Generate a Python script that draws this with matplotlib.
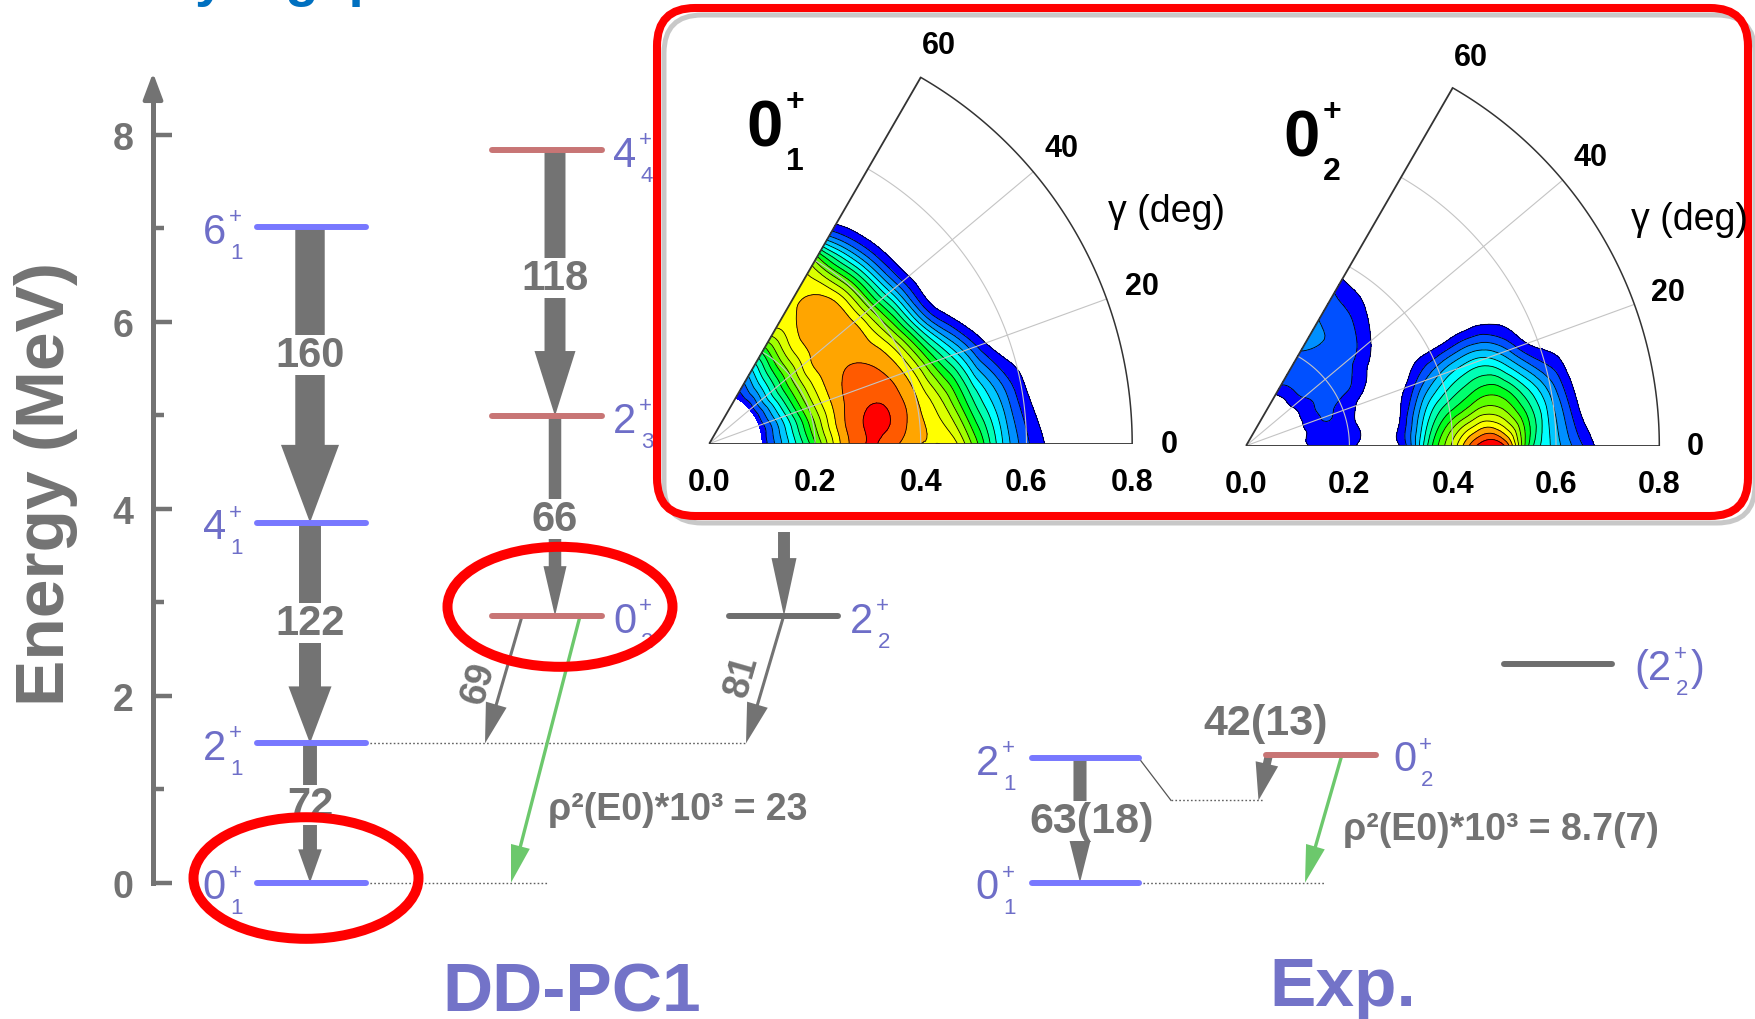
import numpy as np
import matplotlib
matplotlib.use("Agg")
import matplotlib.pyplot as plt
import matplotlib.tri as mtri
from matplotlib.patches import FancyArrowPatch, Ellipse, FancyBboxPatch

plt.rcParams['font.family'] = ['Liberation Sans', 'DejaVu Sans']

# ---------------- level scheme (energies in MeV) ----------------
dd_g_spin = ['0', '2', '4', '6']
dd_g_index = ['1', '1', '1', '1']
dd_g_energy = [0.0, 1.49, 3.85, 7.01]

dd_x_spin = ['0', '2', '4']
dd_x_index = ['2', '3', '4']
dd_x_energy = [2.85, 4.99, 7.83]

dd_gam_energy = 2.85          # 2+_2 (DD-PC1)

exp_g_spin = ['0', '2']
exp_g_index = ['1', '1']
exp_g_energy = [0.0, 1.33]
exp_02_energy = 1.37
exp_22_energy = 2.34
exp_21_drawn = 0.88           # end of the 42(13) arrow (2+_1 drawn shifted)

# B(E2) labels (W.u.) and E0 strengths
dd_g_be2 = ['72', '122', '160']
dd_x_be2 = ['66', '118']
dd_cross_be2 = ['69', '81']
exp_be2 = ['63(18)', '42(13)']
rho2_labels = ['ρ²(E0)*10³ = 23', 'ρ²(E0)*10³ = 8.7(7)']

energy_ticks = [0, 2, 4, 6, 8]
energy_minor = [1, 3, 5, 7]

# ---------------- collective wave functions |psi(beta, gamma)|^2 ----------------
beta_grid = [0.10, 0.15, 0.20, 0.25, 0.30, 0.35, 0.40,
             0.45, 0.50, 0.55, 0.60, 0.65, 0.70, 0.75, 0.80]
gamma_grid = [0, 10, 20, 30, 40, 50, 60]

psi_01 = [
    [0.07, 0.30, 0.55, 0.82, 0.94, 0.89, 0.81, 0.80, 0.60, 0.33, 0.13, 0.03, 0, 0, 0],
    [0.07, 0.32, 0.60, 0.84, 0.94, 0.93, 0.82, 0.68, 0.45, 0.25, 0.07, 0, 0, 0, 0],
    [0.07, 0.34, 0.63, 0.83, 0.91, 0.89, 0.78, 0.54, 0.30, 0.07, 0, 0, 0, 0, 0],
    [0.07, 0.36, 0.64, 0.82, 0.87, 0.84, 0.68, 0.36, 0.06, 0, 0, 0, 0, 0, 0],
    [0.07, 0.36, 0.62, 0.81, 0.86, 0.83, 0.60, 0.28, 0.03, 0, 0, 0, 0, 0, 0],
    [0.07, 0.32, 0.58, 0.78, 0.85, 0.83, 0.60, 0.26, 0.02, 0, 0, 0, 0, 0, 0],
    [0.07, 0.25, 0.50, 0.74, 0.79, 0.78, 0.62, 0.20, 0, 0, 0, 0, 0, 0, 0],
]

psi_02 = [
    [0, 0.10, 0.07, 0, 0.06, 0.42, 0.70, 0.95, 0.94, 0.47, 0.27, 0.12, 0, 0, 0],
    [0, 0.10, 0.08, 0, 0.04, 0.30, 0.48, 0.58, 0.58, 0.42, 0.22, 0.03, 0, 0, 0],
    [0, 0.11, 0.09, 0.01, 0, 0.12, 0.25, 0.32, 0.30, 0.14, 0.02, 0, 0, 0, 0],
    [0, 0.11, 0.13, 0.09, 0, 0, 0, 0, 0, 0, 0, 0, 0, 0, 0],
    [0, 0.12, 0.15, 0.14, 0.08, 0, 0, 0, 0, 0, 0, 0, 0, 0, 0],
    [0, 0.13, 0.16, 0.17, 0.14, 0.06, 0, 0, 0, 0, 0, 0, 0, 0, 0],
    [0, 0.14, 0.17, 0.19, 0.16, 0.10, 0, 0, 0, 0, 0, 0, 0, 0, 0],
]

beta_ticks = [0.0, 0.2, 0.4, 0.6, 0.8]
gamma_ticks = [0, 20, 40, 60]

wf_colors = ['#0000ff', '#0050ff', '#0090ff', '#00c8ff', '#00ffff', '#00ffb4',
             '#00ff6e', '#00ff1e', '#5aff00', '#a0ff00', '#dcff00', '#ffff00',
             '#ffa500', '#ff5a00', '#ff0000']

# ---------------- styles ----------------
GRAY = '#737373'
LGRAY = '#6e6e6e'
LBL = '#6e6ec8'
BLUE = '#7878ff'
RED = '#c87575'
GREEN = '#6cc86c'

W, H = 1756, 1020
E0_PX, PX_PER_MEV = 883.7, 93.52

fig = plt.figure(figsize=(W / 100, H / 100), dpi=100)
ax = fig.add_axes([0, 0, 1, 1])
ax.set_xlim(0, W)
ax.set_ylim(-(H - E0_PX) / PX_PER_MEV, E0_PX / PX_PER_MEV)
ax.patch.set_visible(False)

for s in ['top', 'right', 'bottom']:
    ax.spines[s].set_visible(False)
ax.spines['left'].set_position(('data', 153))
ax.spines['left'].set_bounds(0, 8.45)
ax.spines['left'].set_linewidth(3.6)
ax.spines['left'].set_color(GRAY)
ax.set_xticks([])
ax.set_yticks(energy_ticks)
ax.set_yticks(energy_minor, minor=True)
ax.tick_params(axis='y', which='major', direction='in', length=13.7, width=3.2,
               color=GRAY, labelsize=27, labelcolor=GRAY, pad=14)
ax.tick_params(axis='y', which='minor', direction='in', length=7.6, width=3.2, color=GRAY)
for lbl in ax.get_yticklabels():
    lbl.set_fontweight('bold')
ax.annotate('', xy=(153, 8.66), xytext=(153, 8.35),
            arrowprops=dict(arrowstyle='-|>,head_length=16,head_width=6', mutation_scale=1,
                            color=GRAY, lw=3.0, shrinkA=0, shrinkB=0))
ax.set_ylabel('Energy (MeV)', fontsize=50, fontweight='bold', color=GRAY)
ax.yaxis.set_label_coords(78 / W, (H - 484) / H)

# clipped heading at the very top
fig.text(162 / W, 1 + 4 / H, 'by a gap', fontsize=39, fontweight='bold',
         color='#0070c0', ha='left', va='baseline')


def state_label(a, x, y, main, sup, sub, ha, size, small, color, weight='normal',
                dsup=(2.2, 9.4), dsub=(3.4, -16.2), close=None, close_dx=14):
    t = a.text(x, y, main, ha=ha, va='center_baseline', fontsize=size, color=color,
               fontweight=weight, zorder=6)
    a.annotate(sup, xy=(1, y), xycoords=(t, 'data'), xytext=dsup, textcoords='offset points',
               ha='left', va='center_baseline', fontsize=small, color=color,
               fontweight=weight, zorder=6)
    a.annotate(sub, xy=(1, y), xycoords=(t, 'data'), xytext=dsub, textcoords='offset points',
               ha='left', va='center_baseline', fontsize=small, color=color,
               fontweight=weight, zorder=6)
    if close:
        a.annotate(close, xy=(1, y), xycoords=(t, 'data'), xytext=(close_dx, 0),
                   textcoords='offset points', ha='left', va='center_baseline',
                   fontsize=size, color=color, fontweight=weight, zorder=6)


def levels(x0, x1, energies, color):
    for e in energies:
        ax.plot([x0, x1], [e, e], color=color, lw=4.3, solid_capstyle='round', zorder=4)


def arrow(p0, p1, tail, hw, hl, color=GRAY, z=2):
    ax.add_patch(FancyArrowPatch(p0, p1, arrowstyle=f'simple,head_length={hl},head_width={hw},tail_width={tail}',
                                 mutation_scale=1, color=color, lw=0, shrinkA=0, shrinkB=0, zorder=z))


def tlabel(x, y, s, size=30, rot=0, box=True):
    kw = dict(boxstyle='square,pad=0.0', fc='white', ec='none') if box else None
    ax.text(x, y, s, ha='center', va='center_baseline', fontsize=size, fontweight='bold',
            color=GRAY, rotation=rot, bbox=kw, zorder=3)


def dotted(x0, x1, e):
    ax.plot([x0, x1], [e, e], color='#606060', lw=1.0, ls=(0, (1.2, 1.6)), zorder=1)


DD1, DD2, DD3 = (257, 366), (492, 602), (729, 838)
EX1, EX2, EX3 = (1032, 1139), (1266, 1376), (1504, 1612)

# ---- DD-PC1 ----
levels(*DD1, dd_g_energy, BLUE)
levels(*DD2, dd_x_energy, RED)
levels(*DD3, [dd_gam_energy], LGRAY)

for sp, ix, e in zip(dd_g_spin, dd_g_index, dd_g_energy):
    state_label(ax, DD1[0] - 31, e, sp, '+', ix, 'right', 30, 16, LBL)
for sp, ix, e in zip(dd_x_spin, dd_x_index, dd_x_energy):
    state_label(ax, DD2[1] + 11, e, sp, '+', ix, 'left', 30, 16, LBL)
state_label(ax, DD3[1] + 12, dd_gam_energy, '2', '+', '2', 'left', 30, 16, LBL)

xg = 310
arrow((xg, dd_g_energy[1]), (xg, dd_g_energy[0]), 10, 17, 24)
arrow((xg, dd_g_energy[2]), (xg, dd_g_energy[1]), 15.8, 31, 41)
arrow((xg, dd_g_energy[3]), (xg, dd_g_energy[2]), 21.2, 41.8, 56)
tlabel(xg, 0.88, dd_g_be2[0])
tlabel(xg, 2.83, dd_g_be2[1])
tlabel(xg, 5.69, dd_g_be2[2])

xx = 555
arrow((xx, dd_x_energy[1]), (xx, dd_x_energy[0]), 9, 16.6, 36)
arrow((xx, dd_x_energy[2]), (xx, dd_x_energy[1]), 15.1, 29.5, 46.8)
tlabel(xx, 3.94, dd_x_be2[0])
tlabel(xx, 6.51, dd_x_be2[1])

arrow((784, 3.75), (784, dd_gam_energy), 8.6, 18, 41.8)

dotted(DD1[1], 746, dd_g_energy[1])
dotted(DD1[1], 548, dd_g_energy[0])
arrow((522, dd_x_energy[0]), (485, dd_g_energy[1]), 2.2, 15.5, 29)
arrow((783.6, dd_gam_energy), (746, dd_g_energy[1]), 2.2, 15.5, 29)
tlabel(479, 2.26, dd_cross_be2[0], size=27, rot=74, box=False)
tlabel(741.5, 2.34, dd_cross_be2[1], size=27, rot=74, box=False)

arrow((580, dd_x_energy[0]), (511, dd_g_energy[0]), 2.4, 14, 27, color=GREEN, z=3)
ax.text(548, 0.79, rho2_labels[0], ha='left', va='center', fontsize=27,
        fontweight='bold', color=GRAY, zorder=3)

# ---- Experiment ----
levels(*EX1, exp_g_energy, BLUE)
levels(*EX2, [exp_02_energy], RED)
levels(*EX3, [exp_22_energy], LGRAY)
for sp, ix, e in zip(exp_g_spin, exp_g_index, exp_g_energy):
    state_label(ax, EX1[0] - 33, e, sp, '+', ix, 'right', 30, 16, LBL)
state_label(ax, EX2[1] + 17, exp_02_energy, '0', '+', '2', 'left', 30, 16, LBL)
state_label(ax, EX3[1] + 22, exp_22_energy, '(2', '+', '2', 'left', 30, 16, LBL, close=')')

arrow((1080, exp_g_energy[1]), (1080, exp_g_energy[0]), 9.4, 15, 30)
tlabel(1092, 0.71, exp_be2[0], size=31)
ax.plot([EX1[1], 1171], [exp_g_energy[1], exp_21_drawn], color='#555555', lw=0.9, zorder=1)
dotted(1171, 1263, exp_21_drawn)
arrow((1269, exp_02_energy), (1258.5, exp_21_drawn), 5.8, 16.6, 27)
tlabel(1266, 1.76, exp_be2[1], size=31, box=False)
dotted(EX1[1], 1325, exp_g_energy[0])
arrow((1342, exp_02_energy), (1305, exp_g_energy[0]), 2.4, 14, 27, color=GREEN, z=3)
ax.text(1343, 0.575, rho2_labels[1], ha='left', va='center', fontsize=27,
        fontweight='bold', color=GRAY, zorder=3)

# column titles
ax.text(572, -(1012 - E0_PX) / PX_PER_MEV, 'DD-PC1', ha='center', va='baseline',
        fontsize=50, fontweight='bold', color='#7373c8')
ax.text(1343, -(1006 - E0_PX) / PX_PER_MEV, 'Exp.', ha='center', va='baseline',
        fontsize=50, fontweight='bold', color='#7373c8')

# red highlight ellipses
ax.add_patch(Ellipse((560, 2.95), 225, 1.283, fill=False, ec='#ff0000', lw=7.2, zorder=7))
ax.add_patch(Ellipse((306, 0.05), 225, 1.30, fill=False, ec='#ff0000', lw=7.2, zorder=7))

# ---------------- inset frame ----------------
ov = fig.add_axes([0, 0, 1, 1], zorder=1)
ov.set_xlim(0, W)
ov.set_ylim(H, 0)
ov.axis('off')
bx, by, bw, bh = 657, 9, 1091, 508
ov.add_patch(FancyBboxPatch((bx, by), bw, bh, boxstyle='round,pad=0,rounding_size=38',
                            fc='white', ec='none', clip_on=False, zorder=1))
ov.add_patch(FancyBboxPatch((bx + 7, by + 7), bw, bh, boxstyle='round,pad=0,rounding_size=38',
                            fc='none', ec='#c8c8c8', lw=3.6, clip_on=False, zorder=2))
ov.add_patch(FancyBboxPatch((bx, by), bw, bh, boxstyle='round,pad=0,rounding_size=38',
                            fc='none', ec='#ff0000', lw=5.8, clip_on=False, zorder=3))

lev = np.linspace(0.05, 1.0, 16)
lev[-1] = 3.0


def wedge(ox, oy, s, psi, sub, sx, sy, gx, gy):
    a = fig.add_axes([(ox - 0.05 * s) / W, (H - oy) / H, 0.9 * s / W, 0.8 * s / H], zorder=2)
    a.set_xlim(-0.05, 0.85)
    a.set_ylim(0, 0.8)
    a.patch.set_visible(False)
    for sp in a.spines.values():
        sp.set_visible(False)
    nb, ng = len(beta_grid), len(gamma_grid)
    U, V = np.meshgrid(np.arange(nb, dtype=float), np.arange(ng, dtype=float))
    tri = mtri.Triangulation(U.ravel(), V.ravel())
    z = np.asarray(psi, float).ravel()
    tri_r, z_r = mtri.UniformTriRefiner(tri).refine_field(z, subdiv=3)
    b = np.interp(tri_r.x, np.arange(nb), beta_grid)
    g = np.radians(np.interp(tri_r.y, np.arange(ng), gamma_grid))
    T = mtri.Triangulation(b * np.cos(g), b * np.sin(g), tri_r.triangles)
    a.tricontourf(T, z_r, levels=lev, colors=wf_colors, zorder=1)
    a.tricontour(T, z_r, levels=lev[:-1], colors='k', linewidths=0.6, zorder=2)

    th = np.radians(np.linspace(0, 60, 121))
    for r in beta_ticks[1:-1]:
        a.plot(r * np.cos(th), r * np.sin(th), color='#c4c4c4', lw=0.8, zorder=3)
    for gd in gamma_ticks[1:-1]:
        a.plot([0, 0.8 * np.cos(np.radians(gd))], [0, 0.8 * np.sin(np.radians(gd))],
               color='#c4c4c4', lw=0.8, zorder=3)
    a.plot(0.8 * np.cos(th), 0.8 * np.sin(th), color='#333333', lw=1.1, zorder=4)
    for gd in [gamma_ticks[0], gamma_ticks[-1]]:
        a.plot([0, 0.8 * np.cos(np.radians(gd))], [0, 0.8 * np.sin(np.radians(gd))],
               color='#333333', lw=1.3, zorder=4, solid_capstyle='butt')

    a.set_xticks(beta_ticks)
    a.set_xticklabels([f'{v:.1f}' for v in beta_ticks], fontsize=22, fontweight='bold')
    a.tick_params(axis='x', length=0, pad=17)
    a.set_yticks([])
    for gd in gamma_ticks:
        a.text(0.87 * np.cos(np.radians(gd)), 0.87 * np.sin(np.radians(gd)), str(gd),
               ha='center', va='center', fontsize=22, fontweight='bold', clip_on=False)
    a.text(gx, gy, 'γ (deg)', ha='center', va='center', fontsize=27, clip_on=False)
    state_label(a, sx, sy, '0', '+', sub, 'center', 47, 23, 'black', weight='bold',
                dsup=(2.2, 17.6), dsub=(2.2, -25.6))


wedge(709.3, 444.6, 528.6, psi_01, '1', 0.105, 0.608, 0.864, 0.44)
wedge(1246.1, 446.7, 516.5, psi_02, '2', 0.108, 0.607, 0.858, 0.439)

fig.savefig('out.png', dpi=100)
